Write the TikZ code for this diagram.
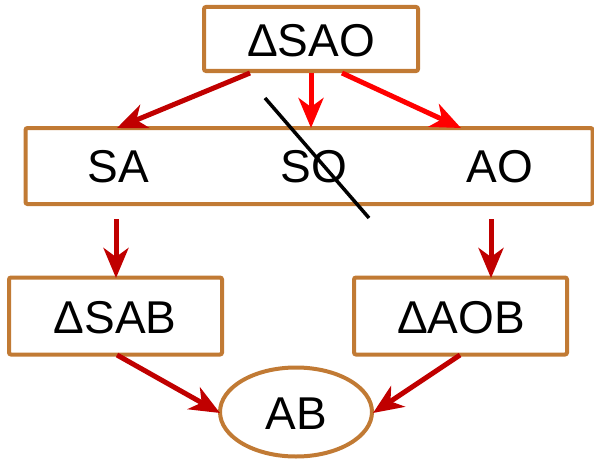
\documentclass[tikz,border=0pt]{standalone}
\usepackage{fontspec}
\setmainfont{Liberation Sans}
\usetikzlibrary{arrows.meta,calc,shapes.geometric}
\definecolor{boxc}{RGB}{193,122,52}
\definecolor{dred}{RGB}{192,0,0}
\definecolor{bred}{RGB}{255,0,0}
\begin{document}
\begin{tikzpicture}[x=1pt,y=-1pt,
  bx/.style={draw=boxc,line width=4pt,rounded corners=2pt,inner sep=0pt,fill=white},
  lbl/.style={inner sep=0pt,font=\fontsize{46}{50}\selectfont},
  arr/.style={line width=5pt,-{Stealth[length=30pt,width=25pt,inset=9pt]}},
  dk/.style={arr,draw=dred,fill=dred},
  rd/.style={arr,draw=bred,fill=bred}]
\useasboundingbox (0,0) rectangle (594,460);
\node[bx,minimum width=214pt,minimum height=64pt] (top) at (311,39) {};
\node[lbl] (ttop) at (311,41) {ΔSAO};
\node[bx,minimum width=567pt,minimum height=76pt] (mid) at (309,166) {};
\node[lbl] (sa) at (118,167) {SA};
\node[lbl] (so) at (314,167) {SO};
\node[lbl] (ao) at (500,167) {AO};
\node[bx,minimum width=213pt,minimum height=77pt] (sab) at (115.5,316) {};
\node[lbl] (tsab) at (115,318) {ΔSAB};
\node[bx,minimum width=213pt,minimum height=77pt] (aob) at (460.5,316) {};
\node[lbl] (taob) at (461,318) {ΔAOB};
\node[draw=boxc,line width=4pt,ellipse,fill=white,inner sep=0pt,minimum width=152pt,minimum height=89pt] (ab) at (296,412) {};
\node[lbl] (tab) at (296,414) {AB};
% connector end points
\coordinate (t1) at ([xshift=-61pt]top.south);
\coordinate (t2) at (top.south);
\coordinate (t3) at ([xshift=31pt]top.south);
\coordinate (m1) at (117,128);
\coordinate (m2) at (311,128);
\coordinate (m3) at (461,128);
\coordinate (d1s) at (116,219);
\coordinate (d1e) at (116,278);
\coordinate (d2s) at (491,219);
\coordinate (d2e) at (491,278);
\coordinate (b1s) at (117,355);
\coordinate (b2s) at (460,355);
\coordinate (e1) at (220,413);
\coordinate (e2) at (373,413);
\draw[dk] (t1) -- (m1);
\draw[rd] (t2) -- (m2);
\draw[rd] (t3) -- (m3);
\draw[dk] (d1s) -- (d1e);
\draw[dk] (d2s) -- (d2e);
\draw[dk] (b1s) -- (e1);
\draw[dk] (b2s) -- (e2);
% strike-through of SO
\coordinate (s1) at (265,98);
\coordinate (s2) at (369,218);
\draw[line width=3.5pt,black] (s1) -- (s2);
\end{tikzpicture}
\end{document}
